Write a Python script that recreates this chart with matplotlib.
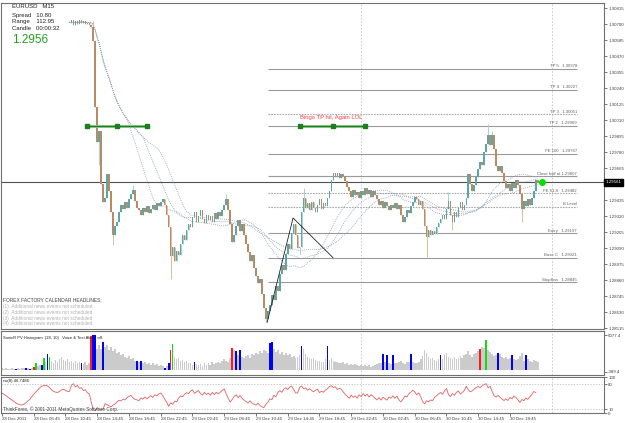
import matplotlib
matplotlib.use('Agg')
import matplotlib.pyplot as plt
import numpy as np
import pandas as pd

plt.rcParams['font.family'] = ['Liberation Sans', 'DejaVu Sans']

# ---- data (EURUSD M15) ----
first_bar = 34
closes = [
    1.3071, 1.3073, 1.3069, 1.3072, 1.3070, 1.3073, 1.3071, 1.3072, 1.3070, 1.3071, 1.3069, 1.3068,
    1.3058, 1.3010, 1.2985, 1.2993, 1.2955,
    1.2942, 1.2945, 1.2962, 1.2950, 1.2935, 1.2918, 1.2925, 1.2928, 1.2935, 1.2940,
    1.2937, 1.2942, 1.2938, 1.2944, 1.2948, 1.2951, 1.2943, 1.2938, 1.2936, 1.2933,
    1.2938, 1.2935, 1.2939, 1.2934, 1.2937, 1.2940, 1.2936, 1.2941, 1.2939, 1.2942,
    1.2944, 1.2940, 1.2933, 1.2924, 1.2903, 1.2910, 1.2900, 1.2907, 1.2904, 1.2912,
    1.2918, 1.2915, 1.2922, 1.2926, 1.2924, 1.2931, 1.2935, 1.2928, 1.2932, 1.2936,
    1.2930, 1.2927, 1.2933, 1.2929, 1.2932, 1.2928, 1.2934, 1.2930, 1.2935, 1.2932,
    1.2936, 1.2940, 1.2944, 1.2936, 1.2926, 1.2913, 1.2918, 1.2925, 1.2929, 1.2921,
    1.2926, 1.2918, 1.2912, 1.2906, 1.2900, 1.2904, 1.2895, 1.2889, 1.2884, 1.2887,
    1.2876, 1.2866, 1.2858, 1.2864, 1.2868, 1.2875, 1.2872, 1.2882, 1.2878, 1.2890,
    1.2897, 1.2893, 1.2905, 1.2912, 1.2908, 1.2920, 1.2926, 1.2918, 1.2909, 1.2910,
    1.2935, 1.2945, 1.2938, 1.2941, 1.2936, 1.2942, 1.2938, 1.2935, 1.2940, 1.2944,
    1.2937, 1.2941, 1.2939, 1.2945, 1.2950, 1.2958, 1.2963, 1.2960, 1.2963, 1.2959,
    1.2962, 1.2961, 1.2957, 1.2953, 1.2950, 1.2946, 1.2951, 1.2947, 1.2949, 1.2945,
    1.2950, 1.2947, 1.2952, 1.2948, 1.2951, 1.2946, 1.2950, 1.2947, 1.2944, 1.2940,
    1.2943, 1.2938, 1.2942, 1.2939, 1.2936, 1.2940, 1.2938, 1.2941, 1.2937, 1.2940,
    1.2933, 1.2928, 1.2931, 1.2936, 1.2934, 1.2939, 1.2942, 1.2946, 1.2944, 1.2940,
    1.2943, 1.2937, 1.2925, 1.2917, 1.2922, 1.2918, 1.2921, 1.2919, 1.2924, 1.2927,
    1.2930, 1.2933, 1.2930, 1.2937, 1.2943, 1.2933, 1.2928, 1.2935, 1.2931, 1.2938,
    1.2942, 1.2936, 1.2940, 1.2945, 1.2962, 1.2955, 1.2950, 1.2954, 1.2960, 1.2966,
    1.2971, 1.2969, 1.2978, 1.2984, 1.2990, 1.2983, 1.2990, 1.2980, 1.2968, 1.2964,
    1.2968, 1.2963, 1.2957, 1.2952, 1.2955, 1.2950, 1.2956, 1.2952, 1.2958, 1.2954,
    1.2948, 1.2937, 1.2943, 1.2939, 1.2944, 1.2940, 1.2945, 1.2950, 1.2958, 1.2956,
]
wick_high = {46: 1.3072, 66: 1.2954, 113: 1.2948, 152: 1.2952, 225: 1.2949, 245: 1.2998, 247: 1.2993}
wick_low = {49: 1.2969, 56: 1.2911, 85: 1.2887, 133: 1.28555, 150: 1.2905, 214: 1.2902, 227: 1.2922, 262: 1.2928}

last_price = 1.29561
price_ticks = [1.30815, 1.30700, 1.30585, 1.30470, 1.30355, 1.30240, 1.30125, 1.30010, 1.29895,
               1.29780, 1.29665, 1.29435, 1.29320, 1.29205, 1.29090, 1.28975, 1.28860, 1.28745,
               1.28630, 1.28515]

level_labels = ['TP 5   1.30378', 'TP 4   1.30227', 'TP 3   1.30051', 'TP 2   1.29969',
                'FE 100   1.29767', 'Close half at 1.29607', 'FE 61.8   1.29482', 'B Level',
                'Entry   1.29197', 'Base C   1.29021', 'Stoploss   1.28845']
level_prices = [1.30378, 1.30227, 1.30051, 1.29969, 1.29767, 1.29607, 1.29482, 1.29385,
                1.29197, 1.29021, 1.28845]
level_dotted = [False, False, True, False, False, False, True, True, False, False, False]

abc_bars = [133.6, 146.7, 166.8]
abc_prices = [1.28555, 1.29306, 1.29021]

green_segments = [(42.8, 73.1), (150.2, 183.0)]

# SonicR PV histogram, one value per bar from bar 0
hist_values = [
    250, 180, 320, 210, 150, 280, 190, 220, 260, 170,
    300, 240, 360, 280, 220, 350, 540, 1250, 700, 820,
    900, 2100, 1300, 2750, 2230, 1500, 1200, 1650, 1400, 1900,
    2280, 1700, 1500, 1850, 1300, 1600, 1100, 1450, 1250, 1350,
    1180, 1000, 1300, 900, 1100, 5900, 6077, 6000, 3600, 4330,
    3700, 4850, 3980, 4300, 3500, 3900, 3200, 3600, 2900, 3100,
    2600, 2800, 2300, 2100, 2400, 1800, 2000, 1500, 1530, 1300,
    1530, 1100, 1400, 1000, 1200, 900, 1100, 800, 950, 700,
    850, 600, 360, 700, 1180, 3455, 4500, 2300, 1800, 2000,
    1500, 1700, 1300, 1450, 1100, 1250, 900, 1350, 1000, 800,
    950, 700, 1100, 850, 1200, 900, 1300, 1000, 1150, 1400,
    1200, 1600, 1800, 1500, 1300, 2000, 3800, 3500, 3300, 2600,
    3400, 2200, 2000, 2400, 2600, 2100, 2800, 2500, 3000, 2700,
    3200, 2900, 3500, 3300, 3000, 4600, 4900, 3600, 3100, 3400,
    2800, 3100, 2600, 2900, 2500, 2700, 2200, 2400, 2100, 2300,
    2600, 4200, 3600, 2800, 2300, 2000, 1800, 2100, 1700, 1500,
    1600, 1400, 1300, 1800, 4100, 1700, 2100, 1500, 1300, 1400,
    1200, 1100, 1300, 1000, 1150, 900, 1050, 850, 950, 800,
    700, 900, 650, 800, 600, 750, 550, 700, 900, 1000,
    1200, 1200, 2800, 1400, 2600, 1100, 1000, 2500, 1200, 1100,
    1300, 1500, 1200, 1000, 1400, 1400, 2800, 1300, 1100, 1200,
    1400, 1900, 2400, 3500, 2900, 2200, 1800, 2000, 1700, 1500,
    1900, 2600, 1800, 2600, 2900, 2300, 2000, 1800, 2200, 1900,
    2100, 2400, 2000, 2600, 2800, 3200, 2500, 2300, 2700, 3000,
    3300, 3600, 3900, 3800, 5200, 3400, 3100, 2800, 2400, 2600,
    2900, 2700, 2200, 2000, 2300, 1900, 2100, 2600, 1800, 1700,
    1900, 2400, 3000, 1600, 2500, 1800, 1500, 1400, 1700, 1600,
    1300,
]
hist_colored = {7: 'b', 12: 'b', 14: 'b', 16: 'r', 17: 'g', 20: 'b', 21: 'g', 23: 'b', 24: 'g',
                40: 'b', 45: 'r', 46: 'b', 47: 'b', 51: 'b', 68: 'b', 70: 'b', 82: 'b', 84: 'b',
                85: 'r', 86: 'g', 97: 'b', 116: 'r', 118: 'b', 120: 'b', 135: 'b', 136: 'b',
                151: 'b', 164: 'b', 192: 'b', 194: 'b', 197: 'b', 206: 'b', 221: 'b', 241: 'r',
                244: 'g', 250: 'b', 257: 'b', 264: 'b'}

# rsi(8) for the bars left of the drawn candles
rsi_head = [55, 52, 48, 44, 40, 36, 32, 28, 25, 23, 22, 24, 28, 33, 38, 45, 52, 58, 64, 70,
            74, 76, 77, 75, 70, 64, 60, 58, 57, 60, 64, 66, 63, 60]

time_tick_bars = list(range(0, 257, 16))
time_tick_labels = ['28 Dec 2011', '28 Dec 06:45', '28 Dec 10:45', '28 Dec 14:45', '28 Dec 18:45',
                    '28 Dec 22:45', '29 Dec 02:45', '29 Dec 06:45', '29 Dec 10:45', '29 Dec 14:45',
                    '29 Dec 18:45', '29 Dec 22:45', '30 Dec 02:45', '30 Dec 06:45', '30 Dec 10:45',
                    '30 Dec 14:45', '30 Dec 18:45']
day_separators = [181, 277]

# ---- layout in pixels ----
W, H = 625, 423
fig = plt.figure(figsize=(W / 100, H / 100), dpi=100)
fig.patch.set_facecolor('white')


def px_axes(x0, y0, x1, y1):
    return fig.add_axes([x0 / W, 1 - y1 / H, (x1 - x0) / W, (y1 - y0) / H])


ax = px_axes(1, 3, 604, 329)
ax_h = px_axes(1, 331, 604, 375)
ax_r = px_axes(1, 377, 604, 413)

xlim = (-0.5, 303.4)
frame = '#707070'
for a in (ax, ax_h, ax_r):
    a.set_xlim(*xlim)
    a.set_facecolor('white')
    for s in a.spines.values():
        s.set_color(frame)
        s.set_linewidth(0.8)
    a.yaxis.tick_right()
    a.tick_params(axis='y', length=2, width=0.5, colors='#404040', labelsize=3.2, pad=1)
    a.tick_params(axis='x', bottom=False, labelbottom=False)
    for b in day_separators:
        a.axvline(b, color='#c4c4c4', lw=0.6, ls=(0, (2, 2)), zorder=0)

# ---- candles ----
idx = np.arange(first_bar, first_bar + len(closes))
c = np.array(closes)
o = np.r_[c[0], c[:-1]]
hi = np.maximum(o, c)
lo = np.minimum(o, c)
for k, v in wick_high.items():
    hi[k - first_bar] = max(hi[k - first_bar], v)
for k, v in wick_low.items():
    lo[k - first_bar] = min(lo[k - first_bar], v)
up = c >= o

ax.set_ylim(1.28508, 1.30851)

# moving averages (dotted)
cs = pd.Series(c)
for p in (30, 38, 46):
    ma = cs.rolling(p, min_periods=1).mean()
    ax.plot(idx, ma, color='#8a9bb0', lw=0.6, ls=(0, (1, 1.4)), zorder=2)

ax.vlines(idx, lo, hi, colors=np.where(up, '#a4d2d3', '#dcbea2'), lw=0.7, zorder=3)
ax.bar(idx, np.maximum(np.abs(c - o), 0.00003), bottom=np.minimum(o, c), width=0.8,
       color=np.where(up, '#5aa6a8', '#b88b66'), linewidth=0, zorder=4)

# levels
x_lvl0, x_lvl1 = 134.1, 289.8
for lab, pr, dot in zip(level_labels, level_prices, level_dotted):
    ax.hlines(pr, x_lvl0, x_lvl1, color='#a8a8a8' if dot else '#9a9a9a', lw=0.8,
              ls=(0, (1.5, 1)) if dot else '-', zorder=1)
    ax.text(x_lvl1, pr + 0.00004, lab, ha='right', va='bottom', fontsize=3.1, color='#606060')

ax.axhline(last_price, color='#505050', lw=0.8, zorder=1)

ax.plot(abc_bars, abc_prices, color='#202020', lw=0.6, zorder=5)

for b0, b1 in green_segments:
    ax.plot([b0, b1], [1.29969, 1.29969], color='#9fd49f', lw=2.2, zorder=5, solid_capstyle='butt')
    ax.plot([b0, (b0 + b1) / 2, b1], [1.29969] * 3, color='#1e7d1e', lw=1.0, marker='s',
            ms=2.2, zorder=6)
ax.text(150.0, 1.30012, 'Bingo TP hit, Again LOL', fontsize=4.2, color='#ff3c3c', va='bottom')

ax.plot([272], [last_price], 'o', color='#00e000', ms=4, zorder=7)

ax.set_yticks(price_ticks)
ax.set_yticklabels([f'{t:.5f}' for t in price_ticks])
ax.text(1.003, last_price, f'{last_price:.5f}', transform=ax.get_yaxis_transform(),
        fontsize=3.2, color='white', va='center', ha='left',
        bbox=dict(boxstyle='square,pad=0.35', fc='black', ec='black'))

# info texts
info = [('EURUSD   M15', 6), ('Spread   10.80', 15), ('Range    112.95', 21.5), ('Candle   00:00:32', 28)]
for t, y in info:
    fig.text(12 / W, 1 - y / H, t, fontsize=4.3, color='#202020', va='center')
fig.text(12 / W, 1 - 40 / H, '1.2956', fontsize=8.5, color='#22a022', va='center')

fig.text(3 / W, 1 - 300 / H, 'FOREX FACTORY CALENDAR HEADLINES:', fontsize=3.5, color='#404040', va='center')
for k, y in enumerate([306.5, 312.3, 318.1, 323.9]):
    fig.text(3 / W, 1 - y / H, f'({k + 1})  Additional news events not scheduled', fontsize=3.4,
             color='#b0b0b0', va='center')

# ---- histogram ----
hb = np.arange(len(hist_values))
palette = {'b': '#0000ff', 'r': '#ff1a1a', 'g': '#18d818'}
hcol = [palette.get(hist_colored.get(b, ''), '#cbcbcb') for b in hb]
ax_h.bar(hb, hist_values, width=0.85, color=hcol, linewidth=0)
ax_h.set_ylim(-913.8, 6776.6)
ax_h.set_yticks([6077.4, -389.4])
ax_h.set_yticklabels(['6077.4', '-389.4'])
fig.text(3 / W, 1 - 338 / H, 'SonicR PV Histogram  (28, 10)   Voice & Text Alerts off.', fontsize=3.0,
         color='#202020', va='center')

# ---- rsi ----
d = cs.diff()
g = d.clip(lower=0).ewm(alpha=1 / 8, adjust=False).mean()
l_ = (-d.clip(upper=0)).ewm(alpha=1 / 8, adjust=False).mean()
rsi_tail = (100 - 100 / (1 + g / l_.replace(0, np.nan))).fillna(60).to_numpy()
rsi = np.r_[rsi_head, rsi_tail[1:]]
ax_r.set_ylim(0, 100)
ax_r.plot(np.arange(len(rsi)), rsi, color='#e06060', lw=0.6)
for lv in (80, 11):
    ax_r.axhline(lv, color='#b8b8b8', lw=0.5, ls=(0, (2, 2)))
ax_r.set_yticks([100, 80, 11, 0])
ax_r.set_yticklabels(['100', '80', '10', '0'])
fig.text(3 / W, 1 - 381 / H, 'rsi(8) 46.7486', fontsize=3.1, color='#202020', va='center')
fig.text(3 / W, 1 - 409 / H, 'ThinkForex, \u00a9 2001-2011 MetaQuotes Software Corp.', fontsize=3.4,
         color='#404040', va='center')

ax_r.tick_params(axis='x', bottom=True, labelbottom=True, length=2, width=0.5, colors='#404040',
                 labelsize=3.2, pad=1)
ax_r.set_xticks(time_tick_bars)
ax_r.set_xticklabels(time_tick_labels, ha='left')

fig.savefig('out.png', dpi=100)
